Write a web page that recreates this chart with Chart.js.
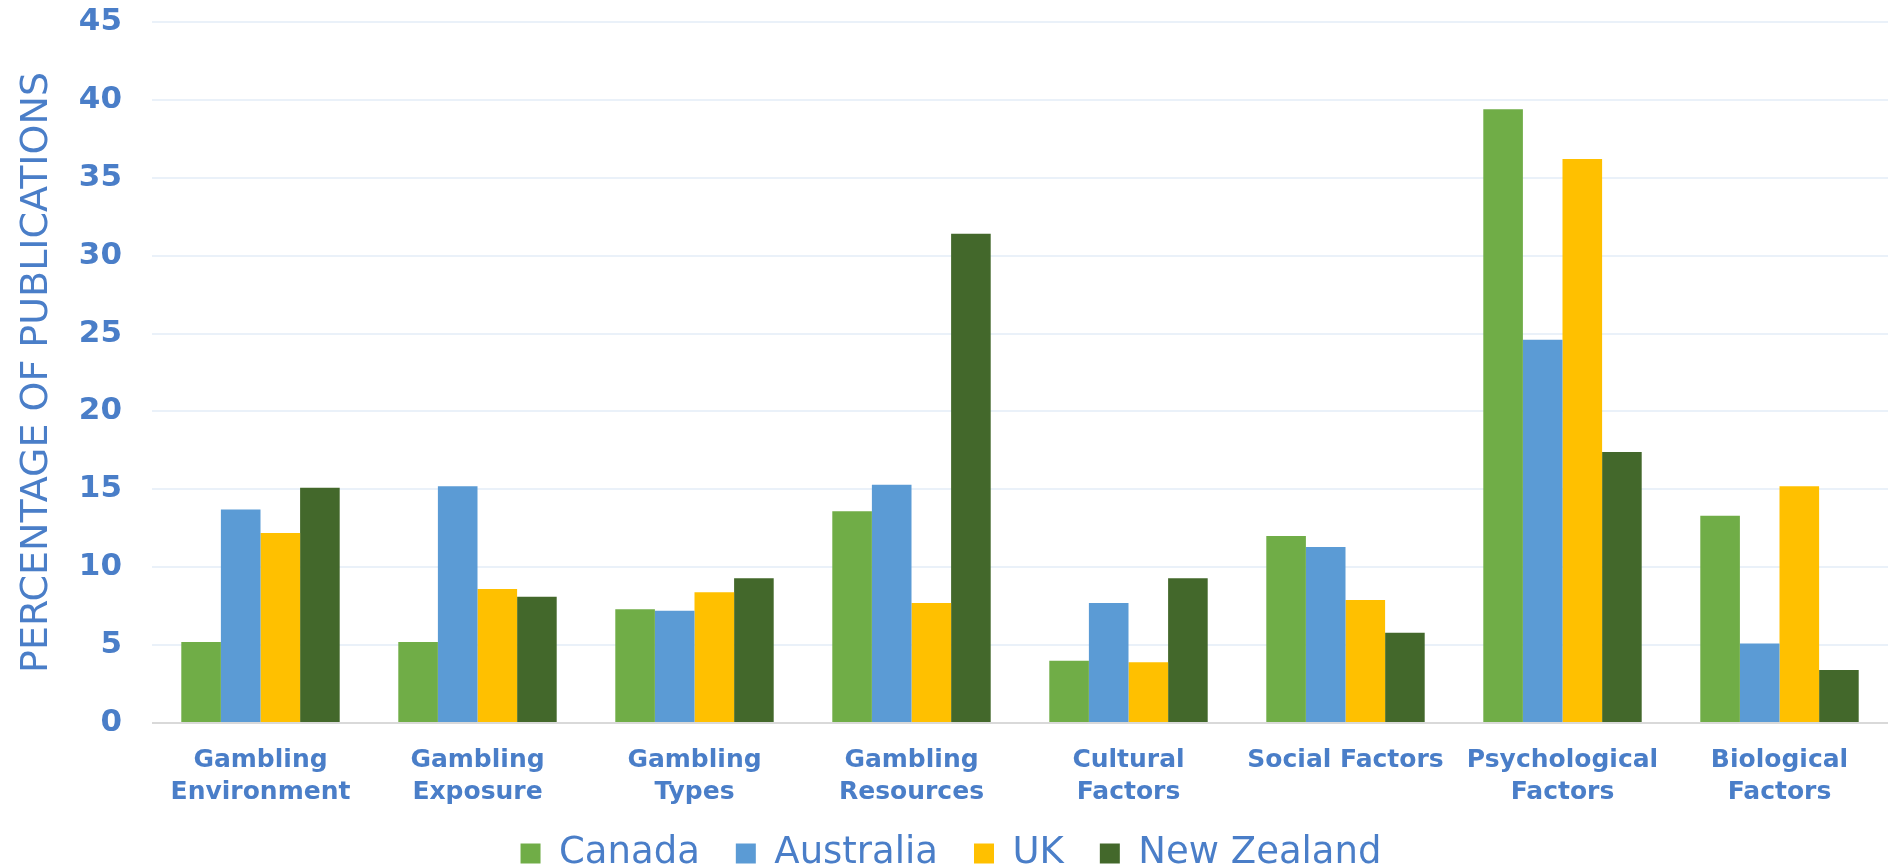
<!DOCTYPE html>
<html>
<head>
<meta charset="utf-8">
<script src="https://cdn.jsdelivr.net/npm/chart.js@4.4.0/dist/chart.umd.min.js"></script>
<style>
  html, body { margin: 0; padding: 0; background: #fff; }
  #wrap { width: 1893px; height: 868px; position: relative; }
</style>
</head>
<body>
<div id="wrap"><canvas id="chart"></canvas></div>
<script>
/* Datos del gráfico */
const categories = [
  ['Gambling', 'Environment'],
  ['Gambling', 'Exposure'],
  ['Gambling', 'Types'],
  ['Gambling', 'Resources'],
  ['Cultural', 'Factors'],
  'Social Factors',
  ['Psychological', 'Factors'],
  ['Biological', 'Factors']
];
const canada    = [5.2, 5.2, 7.3, 13.6, 4.0, 12.0, 39.4, 13.3];
const australia = [13.7, 15.2, 7.2, 15.3, 7.7, 11.3, 24.6, 5.1];
const uk        = [12.2, 8.6, 8.4, 7.7, 3.9, 7.9, 36.2, 15.2];
const newZealand = [15.1, 8.1, 9.3, 31.4, 9.3, 5.8, 17.4, 3.4];
const yTicks = [0, 5, 10, 15, 20, 25, 30, 35, 40, 45];

const BLUE_TEXT = '#4a7ec8';
const FONT = "'DejaVu Sans', sans-serif";

// las etiquetas del eje x bajan sobre el hueco superior de la leyenda: sin recorte
const unclipX = {
    id: 'unclipX',
    beforeDraw(chart) { chart.scales.x.bottom = chart.height; }
};

new Chart(document.getElementById('chart'), {
    type: 'bar',
    data: {
        labels: categories,
        datasets: [
            { label: 'Canada', data: canada, backgroundColor: '#70ad47' },
            { label: 'Australia', data: australia, backgroundColor: '#5b9bd5' },
            { label: 'UK', data: uk, backgroundColor: '#ffc000' },
            { label: 'New Zealand', data: newZealand, backgroundColor: '#43682b' }
        ]
    },
    plugins: [unclipX],
    options: {
        responsive: true,
        maintainAspectRatio: false,
        animation: false,
        datasets: { bar: { barPercentage: 1, categoryPercentage: 0.73 } },
        layout: { padding: { left: 14, right: 5, top: 0, bottom: -14 } },
        plugins: {
            tooltip: { enabled: false },
            legend: {
                position: 'bottom',
                labels: {
                    color: BLUE_TEXT,
                    font: { family: FONT, size: 37 },
                    boxWidth: 20,
                    boxHeight: 20,
                    padding: 36
                }
            }
        },
        scales: {
            x: {
                grid: { display: false },
                border: { display: false },
                afterFit: axis => { axis.height = 76; },
                ticks: {
                    color: BLUE_TEXT,
                    font: { family: FONT, size: 25, weight: 'bold', lineHeight: 1.3 },
                    padding: 13,
                    maxRotation: 0,
                    autoSkip: false
                }
            },
            y: {
                min: 0,
                max: 45,
                afterBuildTicks: axis => { axis.ticks = yTicks.map(v => ({ value: v })); },
                afterFit: axis => { axis.width = 138; axis.paddingTop = 22; axis.paddingBottom = 0; },
                grid: {
                    color: c => c.tick && c.tick.value === 0 ? '#d9d9d9' : '#eaf1f9',
                    lineWidth: 2,
                    drawTicks: false
                },
                border: { display: false },
                ticks: {
                    color: BLUE_TEXT,
                    font: { family: FONT, size: 31, weight: 'bold' },
                    padding: 30
                },
                title: {
                    display: true,
                    text: 'PERCENTAGE OF PUBLICATIONS',
                    color: BLUE_TEXT,
                    font: { family: FONT, size: 38 },
                    padding: { top: 0, bottom: 0 }
                }
            }
        }
    }
});
</script>
</body>
</html>
